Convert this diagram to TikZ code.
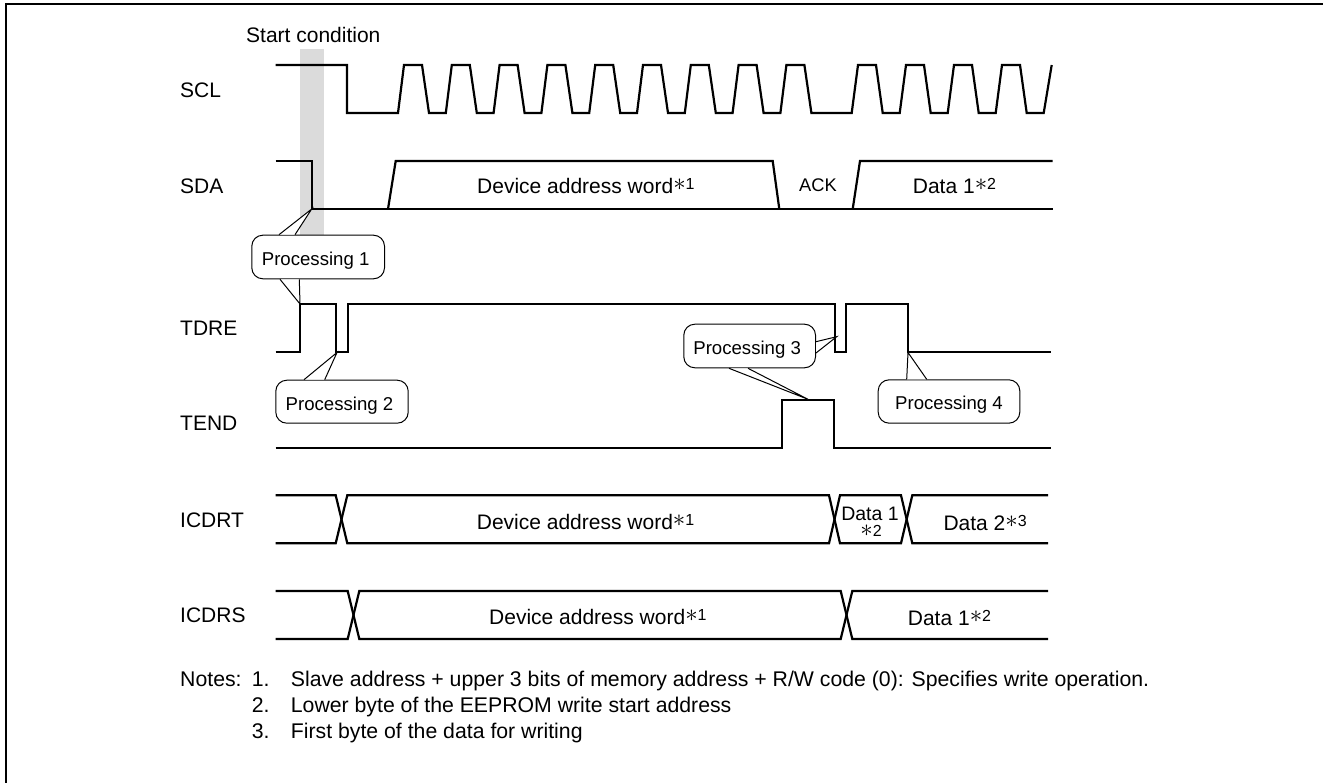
\documentclass[tikz,border=0pt]{standalone}
\usepackage{fontspec}
\setmainfont{Liberation Sans}
\usetikzlibrary{calc}
\newcommand{\starmark}{\smash{\raisebox{3pt}{\fontsize{24}{24}\selectfont$\ast$}}}
\newcommand{\supnote}[1]{\starmark\smash{\raisebox{4pt}{\fontsize{16}{16}\selectfont #1}}}
\newcommand{\calltext}[1]{\hspace*{-5pt}#1}
\tikzset{
  x=1pt,y=-1pt,
  wave/.style={line width=2.2pt,line join=miter},
  lbl/.style={font=\fontsize{21}{24}\selectfont,inner sep=0pt,anchor=west,text height=15pt,text depth=4pt},
  note/.style={lbl,font=\fontsize{21.25}{24}\selectfont},
  callout/.style={draw,fill=white,line width=1pt,rounded corners=11pt,inner sep=0pt,anchor=north west,font=\fontsize{18.6}{20}\selectfont,text height=17pt,text depth=0pt},
  tail/.style={line width=1pt,line join=miter},
}
\newcommand{\calltail}[3]{%
  \fill[white] (#1) -- (#2) -- (#3) -- cycle;
  \draw[tail] (#1) -- (#2) -- (#3);}
\begin{document}
\begin{tikzpicture}
\useasboundingbox (0,0) rectangle (1323,783);
\fill[white] (0,0) rectangle (1323,783);
\coordinate (fa) at (6,783);
\coordinate (fb) at (6,4);
\coordinate (fc) at (1323,4);
\draw[line width=2pt] (fa) -- (fb) -- (fc);
\fill[black!14] (300,49) rectangle (324,240);
% waves
\draw[wave] (275.7,65) -- (347,65) -- (347,113) -- (398,113)
  \foreach \i in {0,...,8}{ -- ({398+47.8*\i+6},65) -- ({398+47.8*\i+24},65) -- ({398+47.8*\i+31},113) -- ({398+47.8*\i+47.8},113)}
  -- (851.7,113)
  \foreach \i in {0,1,2,3}{ -- ({851.7+48*\i+6.3},65) -- ({851.7+48*\i+24.3},65) -- ({851.7+48*\i+31},113) -- ({851.7+48*\i+48},113)}
  -- (1051.7,65);
\draw[wave] (275.7,161) -- (311.7,161) -- (311.7,209) -- (1052.5,209);
\draw[wave] (388,209) -- (395.7,161) -- (772.7,161) -- (779.3,209);
\draw[wave] (852.7,209) -- (860,161) -- (1052.5,161);
\draw[wave] (275.7,352.3) -- (300,352.3) -- (300,304.3) -- (336,304.3) -- (336,352.3) -- (347.7,352.3) -- (347.7,304.3) -- (835,304.3) -- (835,352) -- (846,352) -- (846,304.3) -- (908,304.3) -- (908,352) -- (1050.7,352);
\draw[wave] (275.7,447.7) -- (782.3,447.7) -- (782.3,400) -- (834,400) -- (834,447.7) -- (1050.7,447.7);
\draw[wave] (275.7,495.3) -- (335.7,495.3) -- (347.3,543.3) -- (829,543.3) -- (840,495.3) -- (901,495.3) -- (912.3,543.3) -- (1048,543.3);
\draw[wave] (275.7,543.3) -- (335.7,543.3) -- (347.3,495.3) -- (829,495.3) -- (840,543.3) -- (901,543.3) -- (912.3,495.3) -- (1048,495.3);
\draw[wave] (275.7,591) -- (347.7,591) -- (359.3,639) -- (840.7,639) -- (852.3,591) -- (1048,591);
\draw[wave] (275.7,639) -- (347.7,639) -- (359.3,591) -- (840.7,591) -- (852.3,639) -- (1048,639);
% signal names
\node[lbl] (nscl) at (180,92) {SCL};
\node[lbl] (nsda) at (180,188) {SDA};
\node[lbl] (ntdre) at (180,330) {TDRE};
\node[lbl] (ntend) at (180,425) {TEND};
\node[lbl] (nicdrt) at (180,522) {ICDRT};
\node[lbl] (nicdrs) at (180,617) {ICDRS};
\node[lbl] (start) at (246,37.2) {Start condition};
% wave labels
\node[lbl] (w1) at (477,187.8) {Device address word\supnote{1}};
\node[lbl,font=\fontsize{18.3}{20}\selectfont] (w2) at (799,186.2) {ACK};
\node[lbl] (w3) at (912.7,188.5) {Data 1\supnote{2}};
\node[lbl] (w4) at (476.7,523.8) {Device address word\supnote{1}};
\node[lbl,anchor=center,font=\fontsize{19.5}{20}\selectfont,text height=13pt,text depth=0pt] (w5a) at (870,514.2) {Data 1};
\node[lbl,anchor=center,font=\fontsize{16}{16}\selectfont,text height=11pt,text depth=0pt] (w5b) at (871,531.2) {\smash{\fontsize{24}{24}\selectfont$\ast$}2};
\node[lbl] (w6) at (943.3,524.5) {Data 2\supnote{3}};
\node[lbl] (w7) at (489,618.5) {Device address word\supnote{1}};
\node[lbl] (w8) at (907.7,619.5) {Data 1\supnote{2}};
% callouts
\coordinate (t1a) at (311.7,209);
\coordinate (t1b) at (300,304);
\coordinate (t2) at (337,352.5);
\coordinate (t3a) at (836.7,336.7);
\coordinate (t3b) at (808,399.3);
\coordinate (t4) at (908,352.5);
\node[callout,minimum width=132.7pt,minimum height=43.6pt] (p1) at (251.3,234.7) {\calltext{Processing 1}};
\calltail{$(p1.north west)+(27.7,0)$}{t1a}{$(p1.north west)+(43.7,0)$}
\calltail{$(p1.south west)+(28.7,0)$}{t1b}{$(p1.south west)+(48,0)$}
\node[callout,minimum width=132.4pt,minimum height=43pt] (p2) at (275.3,379.7) {\calltext{Processing 2}};
\calltail{$(p2.north west)+(28.7,0)$}{t2}{$(p2.north west)+(49.4,0)$}
\node[callout,minimum width=131.7pt,minimum height=43.6pt] (p3) at (683.3,323.7) {\calltext{Processing 3}};
\calltail{$(p3.north east)+(0,18)$}{t3a}{$(p3.north east)+(0,29.3)$}
\calltail{$(p3.south west)+(45.7,0)$}{t3b}{$(p3.south west)+(64.7,0)$}
\node[callout,minimum width=141.6pt,minimum height=43.4pt] (p4) at (877.7,379.3) {Processing 4};
\calltail{$(p4.north west)+(29,0)$}{t4}{$(p4.north west)+(49,0)$}
% notes
\node[note] (n0) at (180,681.2) {Notes:};
\node[note] (n1a) at (251.7,681.2) {1.};
\node[note] (n1b) at (290.7,681.2) {Slave address + upper 3 bits of memory address + R/W code (0): Specifies write operation.};
\node[note] (n2a) at (251.7,706.8) {2.};
\node[note] (n2b) at (290.7,706.8) {Lower byte of the EEPROM write start address};
\node[note] (n3a) at (251.7,732.8) {3.};
\node[note] (n3b) at (290.7,732.8) {First byte of the data for writing};
\end{tikzpicture}
\end{document}
